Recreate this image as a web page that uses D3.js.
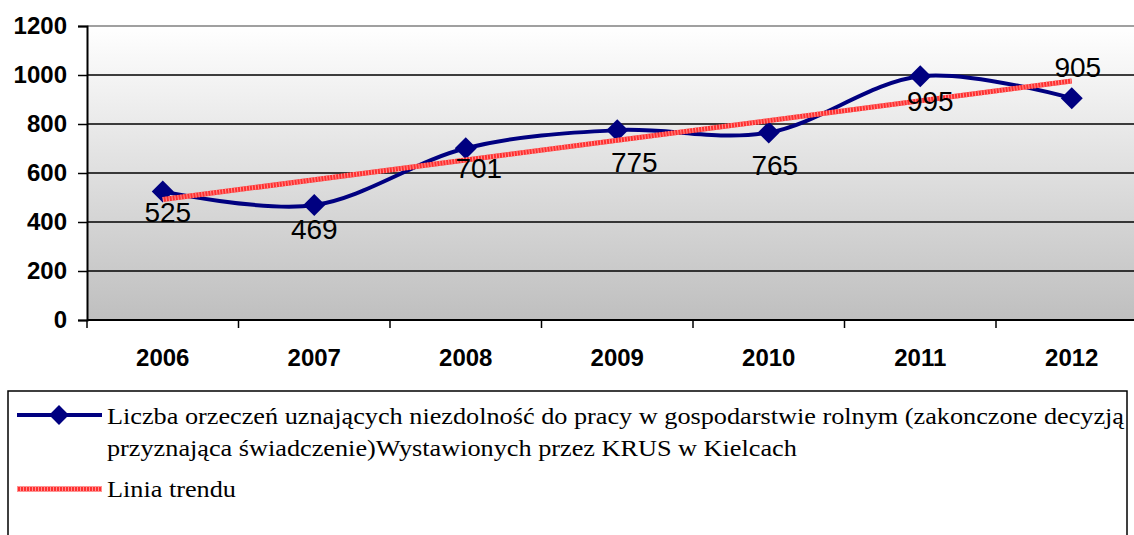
<!DOCTYPE html>
<html lang="pl">
  <head>
    <meta charset="UTF-8" />
    <title>KRUS Kielce</title>
    <script src="https://d3js.org/d3.v7.min.js"></script>
    <style>
      body { margin: 0; background: #fff; }
      .sans { font-family: 'Liberation Sans', Arial, sans-serif; }
      .serif { font-family: 'Liberation Serif', 'Times New Roman', serif; }
    </style>
  </head>
  <body>
    <svg width="1134" height="535"></svg>

    <script>
      // Data
      const years = ['2006', '2007', '2008', '2009', '2010', '2011', '2012'];
      const values = [525, 469, 701, 775, 765, 995, 905];
      const yTicks = [0, 200, 400, 600, 800, 1000, 1200];
      const legendLines = [
        'Liczba orzeczeń uznających niezdolność do pracy w gospodarstwie rolnym (zakonczone decyzją',
        'przyznająca świadczenie)Wystawionych przez KRUS w Kielcach',
      ];
      const trendLabel = 'Linia trendu';

      const svg = d3.select('svg');
      const plotLeft = 87, plotTop = 26, plotBottom = 320, bandW = 151.5;
      const plotRight = plotLeft + bandW * years.length;

      const x = d3.scaleBand().domain(years).range([plotLeft, plotRight]);
      const y = d3.scaleLinear().domain([0, 1200]).range([plotBottom, plotTop]);

      // Background gradient
      const defs = svg.append('defs');
      const grad = defs.append('linearGradient')
        .attr('id', 'bg').attr('x1', 0).attr('y1', 0).attr('x2', 0).attr('y2', 1);
      grad.append('stop').attr('offset', '0%').attr('stop-color', '#ffffff');
      grad.append('stop').attr('offset', '100%').attr('stop-color', '#bfbfbf');

      svg.append('rect')
        .attr('x', plotLeft).attr('y', plotTop)
        .attr('width', plotRight - plotLeft).attr('height', plotBottom - plotTop)
        .attr('fill', 'url(#bg)');

      // Gridlines
      svg.selectAll('.grid')
        .data(yTicks.filter((d) => d > 0))
        .enter()
        .append('line')
        .attr('x1', plotLeft).attr('x2', plotRight)
        .attr('y1', (d) => y(d)).attr('y2', (d) => y(d))
        .attr('stroke', (d) => (d === 1200 ? '#808080' : '#000'))
        .attr('stroke-width', 1.5);

      // Y axis
      const yAxis = svg.append('g')
        .attr('transform', `translate(${plotLeft},0)`)
        .call(d3.axisLeft(y).tickValues(yTicks).tickSize(9).tickPadding(11).tickFormat(d3.format('d')));
      yAxis.attr('font-family', null).attr('font-size', null);
      yAxis.select('.domain').attr('stroke-width', 2);
      yAxis.selectAll('.tick line').attr('stroke-width', 1.5);
      yAxis.selectAll('text')
        .attr('class', 'sans')
        .style('font-size', '24px').style('font-weight', 'bold').attr('fill', '#000');

      // X axis (ticks between categories)
      const xAxis = svg.append('g').attr('transform', `translate(0,${plotBottom})`);
      xAxis.append('line')
        .attr('x1', plotLeft).attr('x2', plotRight)
        .attr('stroke', '#000').attr('stroke-width', 2);
      xAxis.selectAll('.xt')
        .data(d3.range(years.length + 1))
        .enter()
        .append('line')
        .attr('x1', (i) => plotLeft + i * x.bandwidth()).attr('x2', (i) => plotLeft + i * x.bandwidth())
        .attr('y1', 0).attr('y2', 8)
        .attr('stroke', '#000').attr('stroke-width', 1.5);
      xAxis.selectAll('.xl')
        .data(years)
        .enter()
        .append('text')
        .attr('class', 'sans')
        .attr('x', (d) => x(d) + x.bandwidth() / 2)
        .attr('y', 46)
        .attr('text-anchor', 'middle')
        .style('font-size', '24px').style('font-weight', 'bold')
        .text((d) => d);

      const cx = (d, i) => x(years[i]) + x.bandwidth() / 2;

      // Smoothed data line
      const line = d3.line()
        .x((d, i) => cx(d, i))
        .y((d) => y(d))
        .curve(d3.curveCardinal.tension(0));
      svg.append('path')
        .datum(values)
        .attr('d', line)
        .attr('fill', 'none')
        .attr('stroke', '#000080')
        .attr('stroke-width', 4);

      // Markers
      const diamond = 'M0,-11L11,0L0,11L-11,0Z';
      svg.selectAll('.marker')
        .data(values)
        .enter()
        .append('path')
        .attr('d', diamond)
        .attr('transform', (d, i) => `translate(${cx(d, i)},${y(d)})`)
        .attr('fill', '#000080');

      // Linear trend line (least squares)
      const n = values.length;
      const mx = d3.mean(d3.range(n));
      const my = d3.mean(values);
      const slope = d3.sum(values, (v, i) => (i - mx) * (v - my)) / d3.sum(d3.range(n), (i) => (i - mx) ** 2);
      const trend = [0, n - 1].map((i) => ({ i, v: my + slope * (i - mx) }));
      const trendLine = d3.line().x((d) => cx(null, d.i)).y((d) => y(d.v));
      svg.append('path').datum(trend).attr('d', trendLine)
        .attr('stroke', '#ff3030').attr('stroke-width', 5).attr('fill', 'none');
      svg.append('path').datum(trend).attr('d', trendLine)
        .attr('stroke', '#ff9090').attr('stroke-width', 5).attr('fill', 'none')
        .attr('stroke-dasharray', '1 2');

      // Data labels (hand-nudged in the original, dx/dy from the point)
      const labelNudge = [[5, 21], [0, 24], [13, 20], [17, 32], [6, 33], [10, 25], [6, -31]];
      svg.selectAll('.label')
        .data(values)
        .enter()
        .append('text')
        .attr('class', 'sans')
        .attr('x', (d, i) => cx(d, i) + labelNudge[i][0])
        .attr('y', (d, i) => y(d) + labelNudge[i][1])
        .attr('dy', '0.35em')
        .attr('text-anchor', 'middle')
        .style('font-size', '28px')
        .text((d) => d);

      // Legend
      const lg = svg.append('g');
      lg.append('rect')
        .attr('x', 8).attr('y', 391).attr('width', 1119).attr('height', 160)
        .attr('fill', '#fff').attr('stroke', '#000').attr('stroke-width', 1.5);

      lg.append('line')
        .attr('x1', 17).attr('x2', 102).attr('y1', 415).attr('y2', 415)
        .attr('stroke', '#000080').attr('stroke-width', 4);
      lg.append('path').attr('d', diamond)
        .attr('transform', 'translate(59,415) scale(0.9)').attr('fill', '#000080');

      lg.append('line')
        .attr('x1', 17).attr('x2', 102).attr('y1', 489).attr('y2', 489)
        .attr('stroke', '#ff3030').attr('stroke-width', 5);
      lg.append('line')
        .attr('x1', 17).attr('x2', 102).attr('y1', 489).attr('y2', 489)
        .attr('stroke', '#ff9090').attr('stroke-width', 5).attr('stroke-dasharray', '1 2');

      const legendTexts = lg.selectAll('.lt')
        .data([...legendLines.map((t, i) => ({ t, y: 424 + i * 32 })), { t: trendLabel, y: 497 }])
        .enter()
        .append('text')
        .attr('class', 'serif')
        .attr('x', 107)
        .attr('y', (d) => d.y)
        .style('font-size', '24px')
        .text((d) => d.t);

      // Compress text horizontally like the original
      const w0 = legendTexts.nodes()[0].getComputedTextLength();
      const k = (1124 - 107) / w0;
      legendTexts.each(function () {
        const w = this.getComputedTextLength();
        d3.select(this).attr('textLength', w * k).attr('lengthAdjust', 'spacingAndGlyphs');
      });
    </script>
  </body>
</html>
